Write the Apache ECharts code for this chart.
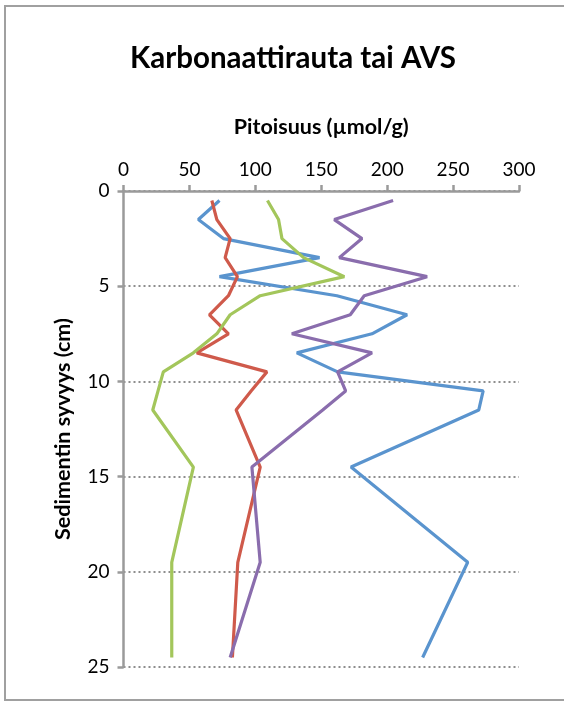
<!DOCTYPE html>
<html>
<head>
<meta charset="utf-8">
<script src="https://cdn.jsdelivr.net/npm/echarts@6/dist/echarts.min.js"></script>
<style>
html,body{margin:0;padding:0;background:#fff;}
#chart{width:564px;height:702px;}
</style>
</head>
<body>
<div id="chart"></div>
<script>
var titleText = 'Karbonaattirauta tai AVS';
var xName = 'Pitoisuus (µmol/g)';
var yName = 'Sedimentin syvyys (cm)';
var depths = [0.5, 1.5, 2.5, 3.5, 4.5, 5.5, 6.5, 7.5, 8.5, 9.5, 10.5, 11.5, 14.5, 19.5, 24.5];
var blue   = [72.8, 56.8, 75.8, 148.7, 72.8, 161.9, 215.1, 188.5, 131.5, 162.4, 272.8, 269.5, 172.6, 261.1, 226.9];
var red    = [67.0, 70.8, 80.9, 77.1, 86.4, 79.6, 65.2, 79.6, 55.6, 108.8, 96.8, 85.4, 103.7, 86.7, 82.6];
var green  = [109.2, 117.6, 120.2, 136.6, 167.5, 103.7, 80.9, 70.8, 53.0, 30.2, 26.2, 22.2, 53.0, 36.6, 36.6];
var purple = [204.5, 159.9, 180.9, 163.7, 230.3, 182.6, 172.0, 127.7, 188.5, 162.4, 168.5, 151.1, 97.4, 103.7, 80.9];

var seriesDefs = [
  {values: blue, color: '#5A94CE'},
  {values: red, color: '#CF5A4B'},
  {values: green, color: '#A3C65B'},
  {values: purple, color: '#8A6DAD'}
];

var font = 'Lato, "Open Sans", sans-serif';
var axisGrey = '#9A9A9A';

var chart = echarts.init(document.getElementById('chart'), null, {renderer: 'canvas'});
chart.setOption({
  animation: false,
  backgroundColor: '#fff',
  title: {
    text: titleText,
    left: 288,
    top: 38,
    textAlign: 'center',
    textStyle: {fontFamily: font, fontWeight: 'bold', fontSize: 29.5, color: '#000'}
  },
  grid: {left: 123.5, top: 191, right: 45, bottom: 35, containLabel: false},
  xAxis: {
    type: 'value',
    position: 'top',
    min: 0, max: 300, interval: 50,
    name: xName,
    nameLocation: 'middle',
    nameGap: 53,
    nameTextStyle: {fontFamily: font, fontWeight: 'bold', fontSize: 21.5, color: '#000'},
    axisLine: {show: true, lineStyle: {color: axisGrey, width: 2.5}},
    axisTick: {show: true, inside: false, length: 6, lineStyle: {color: axisGrey, width: 2.5}},
    axisLabel: {fontFamily: font, fontSize: 19, color: '#000', margin: 12},
    splitLine: {show: false}
  },
  yAxis: {
    type: 'value',
    inverse: true,
    min: 0, max: 25, interval: 5,
    axisLine: {show: true, lineStyle: {color: axisGrey, width: 2.5}},
    axisTick: {show: true, inside: false, length: 6, lineStyle: {color: axisGrey, width: 2.5}},
    axisLabel: {fontFamily: font, fontSize: 19, color: '#000', margin: 14},
    splitLine: {show: true, lineStyle: {color: '#8E8E8E', width: 2, type: [2, 3]}}
  },
  graphic: [
    {type: 'rect', shape: {x: 5, y: 6, width: 620, height: 694}, style: {fill: 'none', stroke: '#A0A0A0', lineWidth: 2}, silent: true, z: -1},
    {type: 'text', x: 63, y: 429, rotation: Math.PI / 2,
      style: {text: yName, font: 'bold 21.5px ' + font, fill: '#000', textAlign: 'center', textVerticalAlign: 'middle'}}
  ],
  series: seriesDefs.map(function (s) {
    return {
      type: 'line',
      data: s.values.map(function (v, i) { return [v, depths[i]]; }),
      symbol: 'none',
      lineStyle: {color: s.color, width: 3.2},
      itemStyle: {color: s.color}
    };
  })
});
</script>
</body>
</html>
